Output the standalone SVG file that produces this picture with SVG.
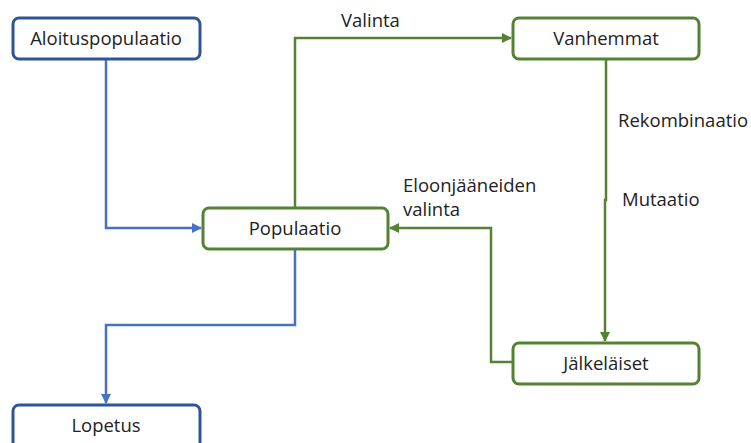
<svg xmlns="http://www.w3.org/2000/svg" width="751" height="443" viewBox="0 0 751 443">
<defs>
<marker id="ab" viewBox="0 0 10 10" refX="9" refY="5" markerWidth="4" markerHeight="4" orient="auto" markerUnits="strokeWidth"><path d="M0,0 L10,5 L0,10 z" fill="#4472C4"/></marker>
<marker id="ag" viewBox="0 0 10 10" refX="9" refY="5" markerWidth="4" markerHeight="4" orient="auto" markerUnits="strokeWidth"><path d="M0,0 L10,5 L0,10 z" fill="#548235"/></marker>
</defs>
<style>
.nb{fill:#fff;stroke:#2F5597;stroke-width:3}
.ng{fill:#fff;stroke:#548235;stroke-width:3}
.t{font-family:"Open Sans","Noto Sans",sans-serif;font-size:18.5px;fill:#222}
.c{text-anchor:middle}
.lb{fill:none;stroke:#4472C4;stroke-width:2.5}
.lg{fill:none;stroke:#548235;stroke-width:2.5}
</style>
<rect width="751" height="443" fill="#fff"/>
<g id="connectors">
<path class="lb" d="M106,59 V228 H201" marker-end="url(#ab)"/>
<path class="lb" d="M295,249 V325 H106 V403" marker-end="url(#ab)"/>
<path class="lg" d="M295,208 V38 H511" marker-end="url(#ag)"/>
<path class="lg" d="M606,59 V200 H605 V341" marker-end="url(#ag)"/>
<path class="lg" d="M513,362 H491 V228 H390" marker-end="url(#ag)"/>
<text class="t" x="341" y="27">Valinta</text>
<text class="t" x="618" y="127">Rekombinaatio</text>
<text class="t" x="622" y="206">Mutaatio</text>
<text class="t" x="403" y="192">Eloonjääneiden</text>
<text class="t" x="403" y="216">valinta</text>
</g>
<g id="aloituspopulaatio"><rect class="nb" x="13" y="18" width="187" height="41" rx="6"/><text class="t c" x="106" y="45">Aloituspopulaatio</text></g>
<g id="populaatio"><rect class="ng" x="203" y="208" width="185" height="41" rx="6"/><text class="t c" x="295" y="235">Populaatio</text></g>
<g id="vanhemmat"><rect class="ng" x="513" y="18" width="186" height="41" rx="6"/><text class="t c" x="606" y="45">Vanhemmat</text></g>
<g id="jalkelaiset"><rect class="ng" x="513" y="343" width="186" height="41" rx="6"/><text class="t c" x="606" y="370">Jälkeläiset</text></g>
<g id="lopetus"><rect class="nb" x="13" y="405" width="187" height="45" rx="6"/><text class="t c" x="106" y="432">Lopetus</text></g>
</svg>
